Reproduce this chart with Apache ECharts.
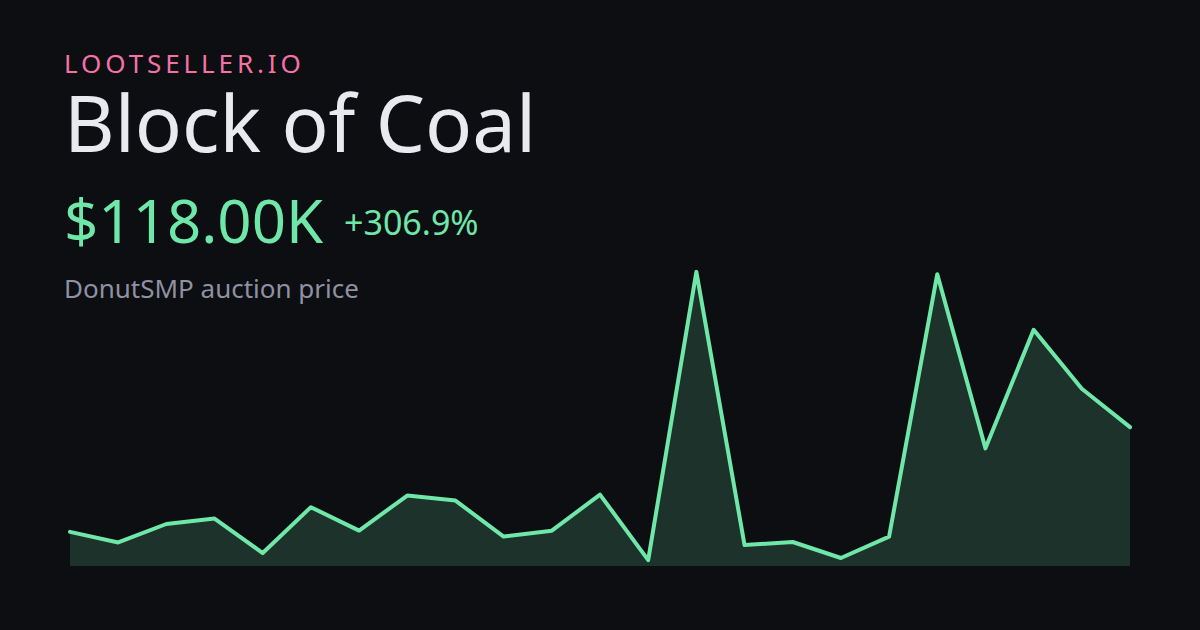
<!DOCTYPE html>
<html><head><meta charset="utf-8">
<style>html,body{margin:0;padding:0;background:#0c0e12}#c{width:1200px;height:630px}</style>
<script src="https://cdn.jsdelivr.net/npm/echarts@6/dist/echarts.min.js"></script>
</head><body><div id="c"></div>
<script>
const brand = "LOOTSELLER.IO";
const itemName = "Block of Coal";
const priceLabel = "$118.00K";
const changeLabel = "+306.9%";
const subtitle = "DonutSMP auction price";
const periods = ["1","2","3","4","5","6","7","8","9","10","11","12","13","14","15","16","17","18","19","20","21","22","23"];
const prices = [29,20,35.7,40.3,11,50,30.1,59.9,55.6,25,30,60.7,5,250,17.8,20.4,6.8,25,248,100,200.8,150.7,118];
const F = '"Noto Sans"';
const chart = echarts.init(document.getElementById('c'), null, {renderer:'svg', width:1200, height:630});
const txt = (x,y,text,size,fill) => ({type:'text', x, y, style:{text, fontFamily:F, fontSize:size, fill, textVerticalAlign:'top', textAlign:'left'}});
chart.setOption({
  animation:false,
  backgroundColor:'#0c0e12',
  grid:{left:70,right:70,top:266,bottom:64},
  xAxis:{type:'category',data:periods,boundaryGap:false,show:false},
  yAxis:{type:'value',min:0,max:255,show:false},
  series:[{type:'line',data:prices,symbol:'none',clip:false,smooth:false,
    lineStyle:{color:'#6ee7a8',width:4,cap:'round',join:'round'},
    areaStyle:{color:'#6ee7a8',opacity:0.17}}],
  graphic:[
    txt(64,50,brand,26,'#f472a6'),
    txt(64,83,itemName,78,'#e8eaf0'),
    txt(64,190,priceLabel,60,'#6ee7a8'),
    txt(344,205,changeLabel,34,'#6ee7a8'),
    txt(64,275,subtitle,26,'#8f91a3')
  ]
});
function spaceBrand(){
  document.querySelectorAll('#c svg text').forEach(t=>{
    if(t.textContent===brand) t.setAttribute('letter-spacing','3.9');
  });
}
chart.on('finished',spaceBrand);
spaceBrand();
requestAnimationFrame(spaceBrand);
</script></body></html>
